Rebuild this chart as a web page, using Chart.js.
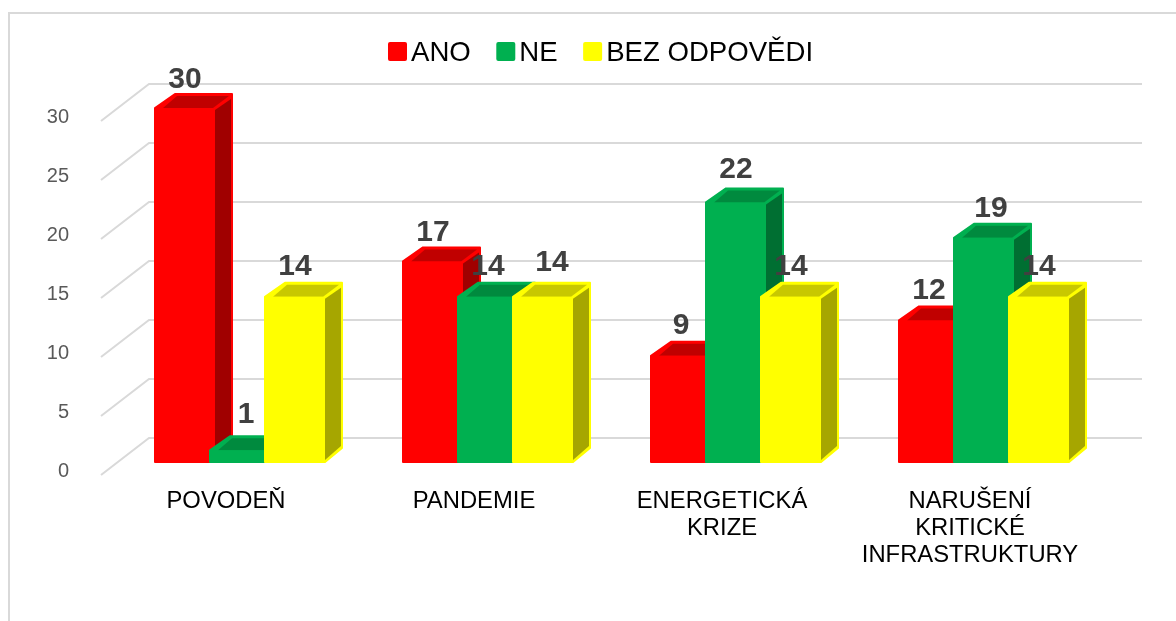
<!DOCTYPE html>
<html>
<head>
<meta charset="utf-8">
<title>Graf</title>
<script src="https://cdn.jsdelivr.net/npm/chart.js@4"></script>
<style>
  html, body { margin: 0; padding: 0; background: #fff; }
  #box { width: 1176px; height: 621px; }
</style>
</head>
<body>
<div id="box"><canvas id="chart" width="1176" height="621"></canvas></div>
<script>
const categories = [['POVODEŇ'], ['PANDEMIE'], ['ENERGETICKÁ', 'KRIZE'], ['NARUŠENÍ', 'KRITICKÉ', 'INFRASTRUKTURY']];
const seriesNames = ['ANO', 'NE', 'BEZ ODPOVĚDI'];
const ano = [30, 17, 9, 12];
const ne = [1, 14, 22, 19];
const bezOdpovedi = [14, 14, 14, 14];
const yTicks = [0, 5, 10, 15, 20, 25, 30];

const frontColors = ['#FF0000', '#00B050', '#FFFF00'];
const topColors = ['#C00000', '#008A3E', '#C8C800'];
const sideColors = ['#A00000', '#006F32', '#A6A600'];

// hand nudges for the value labels, same shape as the series
const labelShiftX = [[0, 0, 0, 0], [6, 0, 0, 7], [0, 9, 0, 0]];
const labelShiftY = [[-28, -29, -30, -30], [-35, -30, -33, -29], [-30, -34, -30, -30]];

const DX = 18, DY = 14;

function drawBlock(c, b, i) {
  const x0 = b.x - b.width / 2, x1 = b.x + b.width / 2;
  const top = b.y, base = b.base;
  // outline of the whole block
  c.fillStyle = c.strokeStyle = frontColors[i];
  c.lineWidth = 2;
  c.lineJoin = 'round';
  c.beginPath();
  c.moveTo(x0, top);
  c.lineTo(x0 + DX + 2, top - DY);
  c.lineTo(x1 + DX - 1, top - DY);
  c.lineTo(x1 + DX - 1, base - DY);
  c.lineTo(x1, base);
  c.lineTo(x0, base);
  c.closePath();
  c.fill();
  c.stroke();
  // top face
  c.fillStyle = topColors[i];
  c.beginPath();
  c.moveTo(x0 + 8, top);
  c.lineTo(x0 + 22, top - DY + 2);
  c.lineTo(x1 + 14, top - DY + 2);
  c.lineTo(x1 - 2, top);
  c.closePath();
  c.fill();
  // side face
  c.fillStyle = sideColors[i];
  c.beginPath();
  c.moveTo(x1, top + 2);
  c.lineTo(x1 + DX - 2, top - DY + 5);
  c.lineTo(x1 + DX - 2, Math.max(base - DY - 2, top - DY + 5));
  c.lineTo(x1, base - 2);
  c.closePath();
  c.fill();
}

const bars3d = {
  id: 'bars3d',
  beforeDraw(chart) {
    const c = chart.ctx;
    c.save();
    c.strokeStyle = '#D9D9D9';
    c.lineWidth = 2;
    c.beginPath();
    c.moveTo(9, 621);
    c.lineTo(9, 13);
    c.lineTo(1176, 13);
    c.stroke();
    c.restore();
  },
  beforeDatasetsDraw(chart) {
    const c = chart.ctx, y = chart.scales.y;
    c.save();
    // back wall lines with the diagonal over the side wall
    c.strokeStyle = '#D9D9D9';
    c.lineWidth = 2;
    y.ticks.forEach(t => {
      const p = y.getPixelForValue(t.value);
      c.beginPath();
      c.moveTo(101, p + 13);
      c.lineTo(149, p - 24);
      c.lineTo(1142, p - 24);
      c.stroke();
    });
    // chart.js paints the first dataset on top, here the last one has to be
    chart.data.datasets.forEach((ds, i) => {
      const meta = chart.getDatasetMeta(i);
      meta.data.forEach(b => drawBlock(c, b, i));
      meta.controller.draw();
    });
    c.restore();
    return false;
  },
  afterDraw(chart) {
    const c = chart.ctx;
    c.save();
    c.font = 'bold 30px "Liberation Sans", Arial, sans-serif';
    c.fillStyle = '#404040';
    c.textAlign = 'center';
    c.textBaseline = 'middle';
    chart.data.datasets.forEach((ds, i) => {
      chart.getDatasetMeta(i).data.forEach((b, j) => {
        c.fillText(ds.data[j], b.x + labelShiftX[i][j], b.y + labelShiftY[i][j]);
      });
    });
    // native legend forces a half-font gap after the box, the original is tighter
    let x = 388;
    c.font = '27.6px "Liberation Sans", Arial, sans-serif';
    c.textAlign = 'left';
    chart.data.datasets.forEach((ds, i) => {
      c.fillStyle = frontColors[i];
      c.beginPath();
      c.roundRect(x, 42, 19, 19, 2);
      c.fill();
      c.fillStyle = '#000';
      c.fillText(ds.label, x + 23, 53);
      x += 23 + c.measureText(ds.label).width + 25.5;
    });
    c.restore();
  },
};

new Chart(document.getElementById('chart'), {
  type: 'bar',
  data: {
    labels: categories,
    datasets: [ano, ne, bezOdpovedi].map((values, i) => ({
      label: seriesNames[i],
      data: values,
      backgroundColor: frontColors[i],
      borderRadius: 2,
      categoryPercentage: 165 / 248,
      barPercentage: 60 / 55,
    })),
  },
  options: {
    responsive: false,
    animation: false,
    layout: { padding: { top: 108, right: 68, left: 0, bottom: 0 } },
    plugins: {
      legend: { display: false },
      tooltip: { enabled: false },
    },
    scales: {
      x: {
        grid: { display: false },
        border: { display: false },
        afterFit(scale) { scale.height = 159; },
        ticks: {
          autoSkip: false,
          maxRotation: 0,
          labelOffset: -14,
          padding: 18,
          color: '#000',
          font: { family: '"Liberation Sans", Arial, sans-serif', size: 23.8, lineHeight: 1.134 },
        },
      },
      y: {
        min: 0,
        max: 30,
        afterBuildTicks(scale) { scale.ticks = yTicks.map(v => ({ value: v })); },
        afterFit(scale) { scale.width = 116; },
        grid: { display: false },
        border: { display: false },
        ticks: {
          padding: 39,
          labelOffset: 9,
          color: '#595959',
          font: { family: '"Liberation Sans", Arial, sans-serif', size: 20 },
        },
      },
    },
  },
  plugins: [bars3d],
});
</script>
</body>
</html>
